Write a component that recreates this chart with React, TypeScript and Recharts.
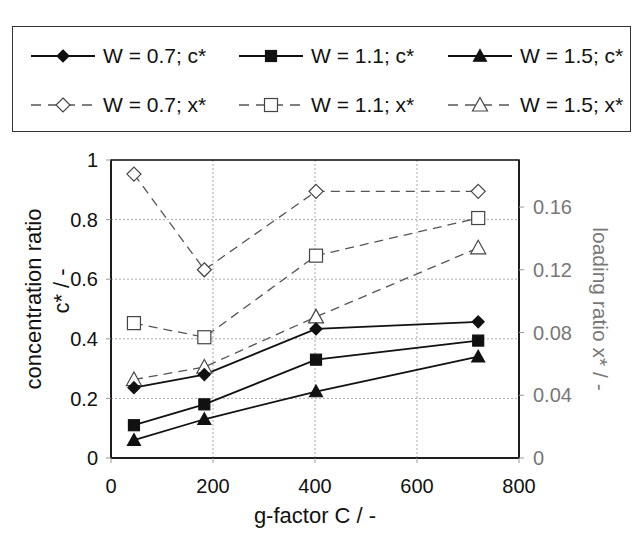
import React from "react";
import {
  ComposedChart,
  Line,
  XAxis,
  YAxis,
  CartesianGrid,
  ReferenceArea,
} from "recharts";

const FONT = '"Liberation Sans", Arial, sans-serif';

// g-factor C on the x axis
const gFactor = [45, 183, 402, 720];

// concentration ratio c* (left axis)
const cW07 = [0.236, 0.28, 0.433, 0.457];
const cW11 = [0.11, 0.18, 0.33, 0.394];
const cW15 = [0.06, 0.13, 0.223, 0.34];

// loading ratio x* (right axis)
const xW07 = [0.181, 0.12, 0.17, 0.17];
const xW11 = [0.086, 0.077, 0.129, 0.153];
const xW15 = [0.05, 0.058, 0.09, 0.134];

const xTicks = [0, 200, 400, 600, 800];
const leftTicks = [0, 0.2, 0.4, 0.6, 0.8, 1];
const rightTicks = [0, 0.04, 0.08, 0.12, 0.16];

const data = gFactor.map((g, i) => ({
  g,
  cW07: cW07[i],
  cW11: cW11[i],
  cW15: cW15[i],
  xW07: xW07[i],
  xW11: xW11[i],
  xW15: xW15[i],
}));

type Shape = "diamond" | "square" | "triangle";

const Marker = ({ cx, cy, shape, filled }: { cx?: number; cy?: number; shape: Shape; filled: boolean }) => {
  if (cx == null || cy == null) return null;
  const fill = filled ? "#111" : "#fff";
  const stroke = filled ? "#111" : "#444";
  if (shape === "diamond") {
    const s = filled ? 6 : 7;
    return (
      <polygon
        points={`${cx},${cy - s} ${cx + s},${cy} ${cx},${cy + s} ${cx - s},${cy}`}
        fill={fill}
        stroke={stroke}
        strokeWidth={1.2}
      />
    );
  }
  if (shape === "square") {
    const s = filled ? 5.5 : 6.5;
    return <rect x={cx - s} y={cy - s} width={2 * s} height={2 * s} fill={fill} stroke={stroke} strokeWidth={1.2} />;
  }
  const s = filled ? 6.5 : 7.5;
  return (
    <polygon
      points={`${cx},${cy - s} ${cx + s},${cy + s * 0.8} ${cx - s},${cy + s * 0.8}`}
      fill={fill}
      stroke={stroke}
      strokeWidth={1.2}
    />
  );
};

const dotFor = (shape: Shape, filled: boolean) => (p: any) =>
  <Marker key={`${shape}-${filled}-${p.index}`} cx={p.cx} cy={p.cy} shape={shape} filled={filled} />;

const legendItems = [
  { label: "W = 0.7; c*", shape: "diamond", filled: true, left: 18, top: 17 },
  { label: "W = 1.1; c*", shape: "square", filled: true, left: 226, top: 17 },
  { label: "W = 1.5; c*", shape: "triangle", filled: true, left: 435, top: 17 },
  { label: "W = 0.7; x*", shape: "diamond", filled: false, left: 18, top: 66 },
  { label: "W = 1.1; x*", shape: "square", filled: false, left: 226, top: 66 },
  { label: "W = 1.5; x*", shape: "triangle", filled: false, left: 435, top: 66 },
];

const LegendIcon = ({ shape, filled }: { shape: Shape; filled: boolean }) => (
  <svg width={64} height={24}>
    <line
      x1={0}
      y1={12}
      x2={64}
      y2={12}
      stroke={filled ? "#111" : "#555"}
      strokeWidth={filled ? 1.8 : 1.3}
      strokeDasharray={filled ? undefined : "10 7"}
    />
    <Marker cx={32} cy={12} shape={shape} filled={filled} />
  </svg>
);

const LeftTitle = ({ viewBox }: any) => {
  const cy = viewBox.y + viewBox.height / 2;
  return (
    <g fill="#111" fontSize={22} fontFamily={FONT} textAnchor="middle">
      <text transform={`translate(33, ${cy - 10}) rotate(-90)`} dominantBaseline="central">
        concentration ratio
      </text>
      <text transform={`translate(61, ${cy - 18}) rotate(-90)`} dominantBaseline="central">
        c* / -
      </text>
    </g>
  );
};

const RightTitle = ({ viewBox }: any) => {
  const cy = viewBox.y + viewBox.height / 2;
  return (
    <text
      transform={`translate(600, ${cy}) rotate(90)`}
      textAnchor="middle"
      dominantBaseline="central"
      fill="#777"
      fontSize={21}
      fontFamily={FONT}
    >
      loading ratio x* / -
    </text>
  );
};

export default function App() {
  return (
    <div style={{ position: "absolute", left: 0, top: 0, width: 633, height: 535, background: "#fff", fontFamily: FONT }}>
      <div
        style={{
          position: "absolute",
          left: 12,
          top: 26,
          width: 619,
          height: 106,
          border: "1px solid #333",
          boxSizing: "border-box",
        }}
      >
        {legendItems.map((it) => (
          <div
            key={it.label}
            style={{ position: "absolute", left: it.left, top: it.top, height: 24, display: "flex", alignItems: "center" }}
          >
            <LegendIcon shape={it.shape as Shape} filled={it.filled} />
            <span style={{ marginLeft: 8, fontSize: 21, color: "#111", whiteSpace: "nowrap" }}>{it.label}</span>
          </div>
        ))}
      </div>

      <ComposedChart
        width={633}
        height={535}
        data={data}
        margin={{ top: 160, right: 54, bottom: 37, left: 51 }}
        style={{ position: "absolute", left: 0, top: 0 }}
      >
        <CartesianGrid yAxisId="left" stroke="#aaa" strokeDasharray="2 2" />
        <XAxis
          dataKey="g"
          type="number"
          domain={[0, 800]}
          ticks={xTicks}
          height={40}
          tickSize={5}
          tickMargin={16}
          tick={{ fontSize: 20, fill: "#111" }}
          axisLine={{ stroke: "#111", strokeWidth: 1.5 }}
          tickLine={{ stroke: "#999" }}
          label={{ value: "g-factor C / -", position: "bottom", offset: 9, fontSize: 22, fill: "#111" }}
        />
        <YAxis
          yAxisId="left"
          domain={[0, 1]}
          ticks={leftTicks}
          width={60}
          tickSize={5}
          tickMargin={8}
          tick={{ fontSize: 20, fill: "#111" }}
          axisLine={{ stroke: "#111", strokeWidth: 1.5 }}
          tickLine={{ stroke: "#999" }}
          label={<LeftTitle />}
        />
        <YAxis
          yAxisId="right"
          orientation="right"
          domain={[0, 0.19]}
          ticks={rightTicks}
          width={60}
          tickSize={5}
          tickMargin={9}
          tick={{ fontSize: 20, fill: "#777" }}
          axisLine={{ stroke: "#111", strokeWidth: 1.5 }}
          tickLine={{ stroke: "#999" }}
          label={<RightTitle />}
        />
        <ReferenceArea yAxisId="left" x1={0} x2={800} y1={0} y2={1} fill="none" stroke="#111" strokeWidth={1.5} />

        <Line yAxisId="right" dataKey="xW07" stroke="#555" strokeWidth={1.3} strokeDasharray="9 6" dot={dotFor("diamond", false)} isAnimationActive={false} />
        <Line yAxisId="right" dataKey="xW11" stroke="#555" strokeWidth={1.3} strokeDasharray="9 6" dot={dotFor("square", false)} isAnimationActive={false} />
        <Line yAxisId="right" dataKey="xW15" stroke="#555" strokeWidth={1.3} strokeDasharray="9 6" dot={dotFor("triangle", false)} isAnimationActive={false} />
        <Line yAxisId="left" dataKey="cW07" stroke="#111" strokeWidth={1.8} dot={dotFor("diamond", true)} isAnimationActive={false} />
        <Line yAxisId="left" dataKey="cW11" stroke="#111" strokeWidth={1.8} dot={dotFor("square", true)} isAnimationActive={false} />
        <Line yAxisId="left" dataKey="cW15" stroke="#111" strokeWidth={1.8} dot={dotFor("triangle", true)} isAnimationActive={false} />
      </ComposedChart>
    </div>
  );
}
